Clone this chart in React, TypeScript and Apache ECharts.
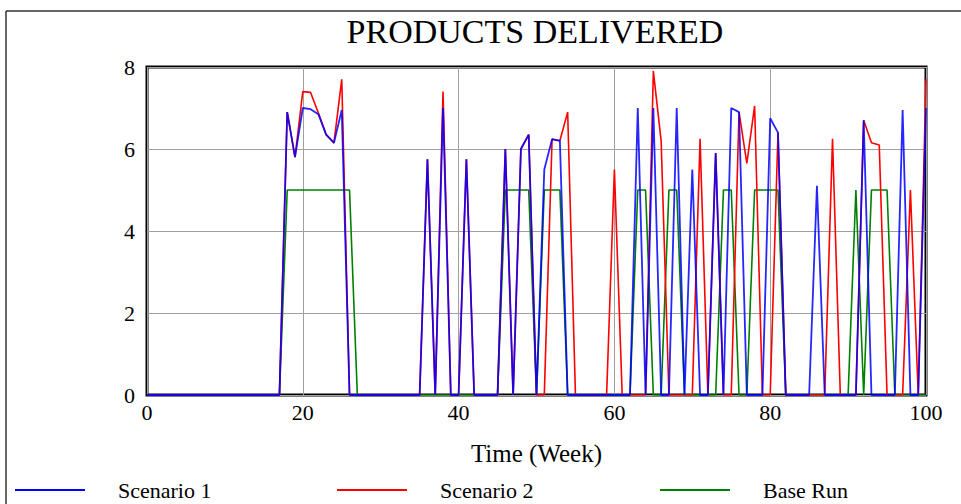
import React, { useEffect, useRef } from "react";
import * as echarts from "echarts";

const weeks: number[] = Array.from({ length: 101 }, (_, i) => i);

const scenario1: number[] = [
  0, 0, 0, 0, 0, 0, 0, 0, 0, 0,
  0, 0, 0, 0, 0, 0, 0, 0, 6.9, 5.8,
  7.0, 6.97, 6.85, 6.35, 6.15, 6.95, 0, 0, 0, 0,
  0, 0, 0, 0, 0, 0, 5.75, 0, 7.0, 0,
  0, 5.75, 0, 0, 0, 0, 6.0, 0, 6.0, 6.35,
  0, 5.5, 6.24, 6.2, 0, 0, 0, 0, 0, 0,
  0, 0, 0, 7.0, 0, 7.0, 0, 0, 7.0, 0,
  5.5, 0, 0, 5.9, 0, 7.0, 6.9, 0, 0, 0,
  6.75, 6.4, 0, 0, 0, 0, 5.1, 0, 0, 0,
  0, 0, 6.7, 0, 0, 0, 0, 6.95, 0, 0,
  7.0,
];

const scenario2: number[] = [
  0, 0, 0, 0, 0, 0, 0, 0, 0, 0,
  0, 0, 0, 0, 0, 0, 0, 0, 6.9, 5.8,
  7.4, 7.38, 6.88, 6.35, 6.15, 7.7, 0, 0, 0, 0,
  0, 0, 0, 0, 0, 0, 5.75, 0, 7.4, 0,
  0, 5.75, 0, 0, 0, 0, 6.0, 0, 6.0, 6.35,
  0, 0, 6.24, 6.2, 6.9, 0, 0, 0, 0, 0,
  5.5, 0, 0, 0, 0, 7.9, 6.2, 0, 0, 0,
  0, 6.25, 0, 5.9, 0, 0, 6.9, 5.65, 7.05, 0,
  0, 6.4, 0, 0, 0, 0, 0, 0, 6.25, 0,
  0, 0, 6.7, 6.15, 6.1, 0, 0, 0, 5.0, 0,
  7.7,
];

const baseRun: number[] = [
  0, 0, 0, 0, 0, 0, 0, 0, 0, 0,
  0, 0, 0, 0, 0, 0, 0, 0, 5, 5,
  5, 5, 5, 5, 5, 5, 5, 0, 0, 0,
  0, 0, 0, 0, 0, 0, 0, 0, 0, 0,
  0, 0, 0, 0, 0, 0, 5, 5, 5, 5,
  0, 5, 5, 5, 0, 0, 0, 0, 0, 0,
  0, 0, 0, 5, 5, 0, 0, 5, 5, 0,
  0, 0, 0, 0, 5, 5, 0, 0, 5, 5,
  5, 5, 0, 0, 0, 0, 0, 0, 0, 0,
  0, 5, 0, 5, 5, 5, 0, 0, 0, 0,
  0,
];

const xTicks = { min: 0, max: 100, interval: 20 };
const yTicks = { min: 0, max: 8, interval: 2 };

const FONT = "'Liberation Serif', 'Times New Roman', serif";

export default function App() {
  const ref = useRef<HTMLDivElement>(null);
  useEffect(() => {
    if (!ref.current) return;
    const chart = echarts.init(ref.current, undefined, { renderer: "svg" });
    const pairs = (vals: number[]) => weeks.map((w, i) => [w, vals[i]]);
    const legendCommon = {
      top: 478,
      itemWidth: 70,
      itemHeight: 2,
      icon: "rect",
      padding: 0,
      textStyle: {
        fontFamily: FONT,
        fontSize: 22,
        lineHeight: 24,
        color: "#000",
        padding: [0, 0, 0, 28],
      },
    };
    chart.setOption({
      animation: false,
      backgroundColor: "#fff",
      title: {
        text: "PRODUCTS DELIVERED",
        left: 535,
        top: 14,
        textAlign: "center",
        padding: 0,
        textStyle: { fontFamily: FONT, fontSize: 34, fontWeight: "normal", color: "#000" },
      },
      legend: [
        { ...legendCommon, left: 15, data: [{ name: "Scenario 1", itemStyle: { color: "#0000ff" } }] },
        { ...legendCommon, left: 337, data: [{ name: "Scenario 2", itemStyle: { color: "#ff0000" } }] },
        { ...legendCommon, left: 660, data: [{ name: "Base Run", itemStyle: { color: "#008000" } }] },
      ],
      grid: {
        left: 147,
        right: 35,
        top: 67,
        bottom: 109,
        show: true,
        borderColor: "#000",
        borderWidth: 3,
        backgroundColor: "#fff",
      },
      xAxis: {
        type: "value",
        min: xTicks.min,
        max: xTicks.max,
        interval: xTicks.interval,
        name: "Time (Week)",
        nameLocation: "middle",
        nameGap: 46,
        nameTextStyle: { fontFamily: FONT, fontSize: 25, color: "#000" },
        axisLine: { show: false },
        axisTick: { show: false },
        axisLabel: { fontFamily: FONT, fontSize: 22, color: "#000", margin: 6 },
        splitLine: { show: true, lineStyle: { color: "#a0a0a0", width: 1 } },
      },
      yAxis: {
        type: "value",
        min: yTicks.min,
        max: yTicks.max,
        interval: yTicks.interval,
        axisLine: { show: false },
        axisTick: { show: false },
        axisLabel: { fontFamily: FONT, fontSize: 22, color: "#000", margin: 12 },
        splitLine: { show: true, lineStyle: { color: "#a0a0a0", width: 1 } },
      },
      graphic: [
        { type: "line", shape: { x1: 6, y1: 11, x2: 6, y2: 504 }, style: { stroke: "#333", lineWidth: 1.5 } },
        { type: "line", shape: { x1: 6, y1: 11, x2: 961, y2: 11 }, style: { stroke: "#333", lineWidth: 1.5 } },
      ],
      series: [
        {
          name: "Base Run",
          type: "line",
          data: pairs(baseRun),
          symbol: "none",
          lineStyle: { color: "#008000", width: 1.6 },
          itemStyle: { color: "#008000" },
          z: 2,
        },
        {
          name: "Scenario 2",
          type: "line",
          data: pairs(scenario2),
          symbol: "none",
          lineStyle: { color: "#ff0000", width: 1.6 },
          itemStyle: { color: "#ff0000" },
          z: 3,
        },
        {
          name: "Scenario 1",
          type: "line",
          data: pairs(scenario1),
          symbol: "none",
          lineStyle: { color: "#0000ff", width: 1.8, opacity: 0.85 },
          itemStyle: { color: "#0000ff" },
          z: 4,
        },
      ],
    });
    return () => chart.dispose();
  }, []);
  return (
    <div
      ref={ref}
      style={{ position: "fixed", left: 0, top: 0, width: 961, height: 504, background: "#fff" }}
    />
  );
}
